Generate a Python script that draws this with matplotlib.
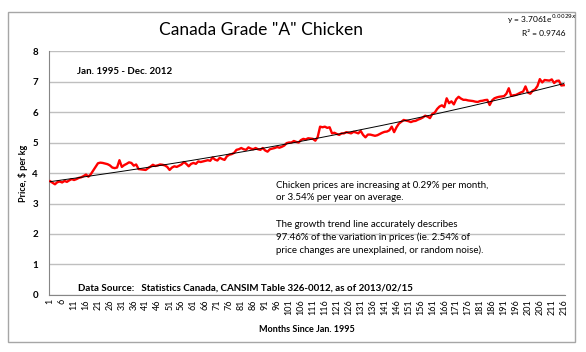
import numpy as np
import matplotlib.pyplot as plt
from matplotlib.patches import Rectangle

plt.rcParams['font.family'] = ['Lato', 'DejaVu Sans']

# monthly price of Canada Grade "A" chicken, $ per kg, Jan. 1995 - Dec. 2012
price = [
    3.73, 3.68, 3.63, 3.70, 3.72, 3.69, 3.74, 3.71, 3.76, 3.80, 3.77, 3.80,
    3.84, 3.86, 3.90, 3.95, 3.88, 3.96, 4.08, 4.20, 4.32, 4.34, 4.33, 4.31,
    4.29, 4.25, 4.18, 4.16, 4.18, 4.42, 4.20, 4.26, 4.30, 4.35, 4.33, 4.24,
    4.28, 4.13, 4.12, 4.11, 4.10, 4.16, 4.21, 4.27, 4.23, 4.25, 4.28, 4.27,
    4.25, 4.20, 4.10, 4.18, 4.22, 4.20, 4.24, 4.28, 4.36, 4.30, 4.22, 4.30,
    4.33, 4.30, 4.38, 4.36, 4.38, 4.40, 4.42, 4.40, 4.51, 4.44, 4.41, 4.50,
    4.46, 4.43, 4.55, 4.60, 4.62, 4.66, 4.76, 4.78, 4.82, 4.78, 4.76, 4.84,
    4.80, 4.78, 4.82, 4.78, 4.76, 4.82, 4.74, 4.70, 4.78, 4.80, 4.82, 4.85,
    4.83, 4.86, 4.90, 4.98, 5.00, 5.00, 5.05, 5.02, 5.00, 5.08, 5.12, 5.10,
    5.14, 5.13, 5.12, 5.06, 5.18, 5.52, 5.50, 5.52, 5.48, 5.50, 5.30, 5.32,
    5.28, 5.25, 5.30, 5.30, 5.34, 5.32, 5.30, 5.35, 5.33, 5.30, 5.38, 5.25,
    5.17, 5.26, 5.26, 5.24, 5.22, 5.24, 5.28, 5.32, 5.35, 5.36, 5.40, 5.52,
    5.34, 5.50, 5.62, 5.68, 5.74, 5.72, 5.70, 5.67, 5.70, 5.71, 5.75, 5.78,
    5.82, 5.88, 5.85, 5.80, 5.94, 5.98, 6.10, 6.18, 6.22, 6.16, 6.45, 6.29,
    6.35, 6.25, 6.42, 6.50, 6.44, 6.40, 6.40, 6.38, 6.37, 6.36, 6.34, 6.33,
    6.36, 6.37, 6.39, 6.40, 6.23, 6.38, 6.45, 6.48, 6.50, 6.51, 6.52, 6.60,
    6.78, 6.53, 6.55, 6.56, 6.60, 6.64, 6.67, 6.84, 6.64, 6.60, 6.70, 6.74,
    6.85, 7.08, 6.97, 7.05, 7.04, 7.03, 7.07, 6.95, 7.02, 7.03, 6.87, 6.88,
]
months = np.arange(1, len(price) + 1)

# exponential trend line fitted in the original
a, b = 3.7061, 0.0029
trend = a * np.exp(b * months)

fig = plt.figure(figsize=(5.86, 3.52), dpi=100)
ax = fig.add_axes([0.0836, 0.162, 0.8804, 0.693])

# outer chart border
fig.patches.append(Rectangle((0.0137, 0.028), 0.967, 0.938, transform=fig.transFigure,
                             fill=False, edgecolor='#A6A6A6', linewidth=1))

ax.plot(months, price, color='#FF0000', linewidth=1.7, zorder=3)
ax.plot(months, trend, color='black', linewidth=0.7, zorder=4)

ax.set_xlim(0.5, len(price) + 0.5)
ax.set_ylim(0, 8)
ax.set_yticks(range(0, 9))
ax.set_xticks(months[::5])
ax.set_xticklabels([str(m) for m in months[::5]], rotation=90, fontsize=6.5)
ax.tick_params(axis='y', length=0, pad=8, labelsize=7)
ax.tick_params(axis='x', length=0, pad=3)
for lbl in ax.get_yticklabels():
    lbl.set_fontweight('bold')

ax.grid(axis='y', color='#BFBFBF', linewidth=1)
ax.set_axisbelow(True)
for side in ['top', 'right']:
    ax.spines[side].set_visible(False)
for side in ['left', 'bottom']:
    ax.spines[side].set_color('#868686')

ax.set_ylabel('Price, $ per kg', fontsize=6.5, fontweight='bold', labelpad=3)
ax.set_xlabel('Months Since Jan. 1995', fontsize=6.5, fontweight='bold', labelpad=7)

fig.text(0.445, 0.915, 'Canada Grade "A" Chicken', fontsize=12.5, ha='center', va='center')
fig.text(0.925, 0.945, r'y = 3.7061e$^{0.0029x}$', fontsize=6, ha='center', va='center')
fig.text(0.928, 0.905, 'R² = 0.9746', fontsize=6, ha='center', va='center')

fig.text(0.131, 0.798, 'Jan. 1995 - Dec. 2012', fontsize=7, fontweight='bold', va='center')
fig.text(0.471, 0.455,
         'Chicken prices are increasing at 0.29% per month,\nor 3.54% per year on average.',
         fontsize=7, va='center', linespacing=1.45)
fig.text(0.471, 0.325,
         'The growth trend line accurately describes\n'
         '97.46% of the variation in prices (ie. 2.54% of\n'
         'price changes are unexplained, or random noise).',
         fontsize=7, va='center', linespacing=1.45)
fig.text(0.133, 0.182,
         'Data Source:   Statistics Canada, CANSIM Table 326-0012, as of 2013/02/15',
         fontsize=7, fontweight='bold', va='center')

fig.savefig('out.png', dpi=100)
